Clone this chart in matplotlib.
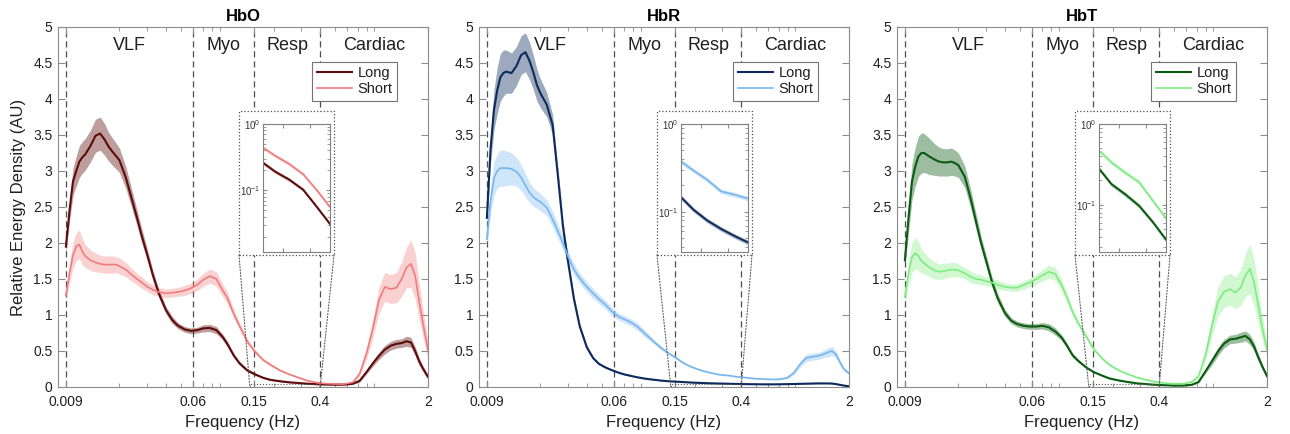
import numpy as np
import matplotlib
matplotlib.use("Agg")
import matplotlib.pyplot as plt
from matplotlib.patches import Rectangle, ConnectionPatch
from matplotlib.ticker import FixedLocator, FixedFormatter, LogLocator, NullFormatter

plt.rcParams['font.family'] = ['Liberation Sans', 'DejaVu Sans']

# frequency grid (Hz)
freq = [0.009, 0.0095, 0.010, 0.0105, 0.011, 0.0115, 0.012, 0.013, 0.014, 0.015,
        0.016, 0.017, 0.018, 0.019, 0.020, 0.022, 0.024, 0.026, 0.028, 0.030,
        0.033, 0.036, 0.040, 0.044, 0.048, 0.053, 0.058, 0.064, 0.070, 0.077,
        0.085, 0.093, 0.10, 0.11, 0.12, 0.135, 0.15, 0.17, 0.19, 0.22,
        0.25, 0.29, 0.33, 0.38, 0.43, 0.5, 0.57, 0.65, 0.72, 0.8,
        0.88, 0.96, 1.05, 1.15, 1.25, 1.35, 1.45, 1.55, 1.65, 1.75,
        1.85, 2.0]

hbo_long = [1.95, 2.45, 2.85, 3.00, 3.13, 3.19, 3.23, 3.35, 3.49, 3.52,
            3.44, 3.34, 3.27, 3.21, 3.15, 2.91, 2.62, 2.35, 2.09, 1.87,
            1.55, 1.30, 1.07, 0.93, 0.85, 0.80, 0.78, 0.79, 0.815, 0.82,
            0.79, 0.70, 0.60, 0.44, 0.33, 0.23, 0.18, 0.13, 0.10, 0.08,
            0.066, 0.055, 0.046, 0.039, 0.035, 0.032, 0.033, 0.045, 0.085, 0.21,
            0.33, 0.43, 0.52, 0.575, 0.60, 0.61, 0.635, 0.62, 0.50, 0.36,
            0.26, 0.14]
hbo_long_se = [0.10, 0.15, 0.19, 0.21, 0.22, 0.22, 0.22, 0.22, 0.23, 0.23,
               0.22, 0.20, 0.19, 0.18, 0.17, 0.15, 0.13, 0.11, 0.10, 0.08,
               0.07, 0.06, 0.05, 0.05, 0.04, 0.04, 0.04, 0.04, 0.05, 0.05,
               0.05, 0.04, 0.04, 0.03, 0.025, 0.02, 0.015, 0.012, 0.01, 0.01,
               0.008, 0.008, 0.007, 0.007, 0.007, 0.007, 0.007, 0.01, 0.02, 0.03,
               0.04, 0.05, 0.06, 0.06, 0.06, 0.06, 0.07, 0.07, 0.06, 0.05,
               0.04, 0.03]
hbo_short = [1.27, 1.58, 1.83, 1.95, 1.98, 1.88, 1.82, 1.76, 1.73, 1.71,
             1.70, 1.70, 1.70, 1.70, 1.68, 1.63, 1.56, 1.50, 1.45, 1.40,
             1.35, 1.32, 1.30, 1.31, 1.32, 1.34, 1.37, 1.42, 1.49, 1.54,
             1.50, 1.35, 1.24, 1.02, 0.85, 0.63, 0.50, 0.38, 0.31, 0.23,
             0.18, 0.13, 0.09, 0.06, 0.048, 0.042, 0.04, 0.065, 0.18, 0.47,
             0.82, 1.20, 1.39, 1.36, 1.38, 1.50, 1.66, 1.71, 1.55, 1.20,
             0.90, 0.51]
hbo_short_se = [0.08, 0.14, 0.18, 0.19, 0.20, 0.18, 0.16, 0.14, 0.13, 0.12,
                0.12, 0.12, 0.12, 0.11, 0.11, 0.10, 0.09, 0.08, 0.08, 0.07,
                0.07, 0.06, 0.06, 0.06, 0.06, 0.07, 0.07, 0.08, 0.09, 0.10,
                0.10, 0.09, 0.08, 0.06, 0.05, 0.04, 0.03, 0.02, 0.02, 0.015,
                0.012, 0.01, 0.01, 0.01, 0.01, 0.01, 0.01, 0.015, 0.03, 0.08,
                0.13, 0.18, 0.20, 0.20, 0.21, 0.24, 0.28, 0.33, 0.32, 0.26,
                0.20, 0.12]

hbr_long = [2.35, 3.30, 3.85, 4.12, 4.30, 4.36, 4.38, 4.36, 4.46, 4.61,
            4.65, 4.53, 4.37, 4.19, 4.08, 3.92, 3.64, 2.92, 2.23, 1.78,
            1.22, 0.84, 0.55, 0.40, 0.32, 0.27, 0.235, 0.20, 0.175, 0.155,
            0.135, 0.12, 0.11, 0.10, 0.09, 0.08, 0.075, 0.068, 0.062, 0.056,
            0.052, 0.048, 0.045, 0.042, 0.04, 0.038, 0.037, 0.037, 0.038, 0.04,
            0.042, 0.044, 0.046, 0.048, 0.05, 0.05, 0.05, 0.048, 0.04, 0.03,
            0.02, 0.01]
hbr_long_se = [0.10, 0.20, 0.28, 0.32, 0.33, 0.32, 0.30, 0.28, 0.27, 0.27,
               0.27, 0.26, 0.24, 0.22, 0.20, 0.17, 0.14, 0.11, 0.09, 0.07,
               0.05, 0.04, 0.03, 0.02, 0.015, 0.012, 0.01, 0.01, 0.008, 0.008,
               0.007, 0.007, 0.006, 0.006, 0.006, 0.005, 0.005, 0.005, 0.005, 0.005,
               0.004, 0.004, 0.004, 0.004, 0.004, 0.004, 0.004, 0.004, 0.004, 0.004,
               0.004, 0.005, 0.005, 0.005, 0.005, 0.005, 0.005, 0.005, 0.005, 0.004,
               0.004, 0.003]
hbr_short = [2.05, 2.58, 2.90, 3.00, 3.04, 3.04, 3.04, 3.03, 2.99, 2.91,
             2.80, 2.70, 2.64, 2.60, 2.57, 2.49, 2.33, 2.16, 2.00, 1.83,
             1.63, 1.51, 1.39, 1.30, 1.22, 1.14, 1.05, 0.98, 0.94, 0.90,
             0.84, 0.76, 0.70, 0.62, 0.55, 0.47, 0.41, 0.33, 0.28, 0.23,
             0.20, 0.17, 0.16, 0.14, 0.13, 0.115, 0.11, 0.105, 0.11, 0.13,
             0.20, 0.31, 0.40, 0.42, 0.43, 0.45, 0.48, 0.50, 0.45, 0.34,
             0.25, 0.19]
hbr_short_se = [0.10, 0.18, 0.23, 0.24, 0.25, 0.25, 0.24, 0.22, 0.20, 0.18,
                0.16, 0.14, 0.13, 0.12, 0.12, 0.11, 0.11, 0.10, 0.09, 0.08,
                0.08, 0.07, 0.07, 0.07, 0.06, 0.06, 0.06, 0.05, 0.05, 0.05,
                0.05, 0.05, 0.04, 0.03, 0.03, 0.02, 0.02, 0.015, 0.012, 0.01,
                0.01, 0.01, 0.008, 0.008, 0.008, 0.008, 0.008, 0.008, 0.01, 0.015,
                0.03, 0.04, 0.05, 0.05, 0.05, 0.05, 0.06, 0.06, 0.05, 0.04,
                0.03, 0.02]

hbt_long = [1.76, 2.35, 2.85, 3.06, 3.20, 3.25, 3.25, 3.20, 3.16, 3.13,
            3.12, 3.12, 3.13, 3.11, 3.08, 2.92, 2.62, 2.30, 2.01, 1.78,
            1.46, 1.23, 1.03, 0.92, 0.875, 0.85, 0.84, 0.84, 0.85, 0.83,
            0.77, 0.69, 0.59, 0.44, 0.36, 0.27, 0.21, 0.16, 0.12, 0.09,
            0.07, 0.05, 0.04, 0.03, 0.025, 0.02, 0.02, 0.03, 0.07, 0.22,
            0.36, 0.49, 0.60, 0.66, 0.67, 0.69, 0.71, 0.66, 0.56, 0.42,
            0.30, 0.15]
hbt_long_se = [0.10, 0.20, 0.25, 0.27, 0.28, 0.28, 0.27, 0.25, 0.22, 0.20,
               0.19, 0.19, 0.19, 0.18, 0.17, 0.15, 0.13, 0.11, 0.09, 0.08,
               0.07, 0.06, 0.05, 0.04, 0.04, 0.04, 0.04, 0.04, 0.045, 0.05,
               0.05, 0.04, 0.035, 0.03, 0.02, 0.015, 0.012, 0.01, 0.01, 0.008,
               0.007, 0.006, 0.006, 0.005, 0.005, 0.005, 0.005, 0.008, 0.015, 0.03,
               0.05, 0.06, 0.06, 0.06, 0.06, 0.07, 0.07, 0.07, 0.06, 0.05,
               0.04, 0.03]
hbt_short = [1.25, 1.58, 1.80, 1.86, 1.82, 1.75, 1.72, 1.66, 1.62, 1.60,
             1.61, 1.62, 1.63, 1.63, 1.62, 1.58, 1.53, 1.50, 1.49, 1.47,
             1.45, 1.42, 1.39, 1.38, 1.38, 1.42, 1.45, 1.50, 1.55, 1.60,
             1.57, 1.42, 1.27, 1.04, 0.88, 0.70, 0.53, 0.40, 0.31, 0.23,
             0.18, 0.13, 0.10, 0.07, 0.055, 0.045, 0.045, 0.07, 0.15, 0.45,
             0.85, 1.18, 1.32, 1.36, 1.31, 1.38, 1.55, 1.64, 1.45, 1.15,
             0.86, 0.52]
hbt_short_se = [0.10, 0.17, 0.21, 0.22, 0.20, 0.17, 0.15, 0.13, 0.12, 0.11,
                0.11, 0.10, 0.10, 0.10, 0.09, 0.08, 0.08, 0.07, 0.07, 0.06,
                0.06, 0.06, 0.05, 0.05, 0.05, 0.06, 0.06, 0.07, 0.08, 0.09,
                0.09, 0.08, 0.07, 0.05, 0.04, 0.03, 0.025, 0.02, 0.015, 0.012,
                0.01, 0.01, 0.01, 0.008, 0.008, 0.008, 0.008, 0.015, 0.03, 0.08,
                0.15, 0.20, 0.22, 0.22, 0.22, 0.25, 0.30, 0.34, 0.32, 0.26,
                0.18, 0.10]

# zoomed inset (0.15 - 0.4 Hz, log scale)
inset_freq = [0.15, 0.18, 0.22, 0.27, 0.33, 0.40]
hbo_inset_long = [0.26, 0.19, 0.145, 0.102, 0.056, 0.031]
hbo_inset_short = [0.44, 0.33, 0.25, 0.175, 0.10, 0.056]
hbr_inset_long = [0.147, 0.106, 0.080, 0.064, 0.053, 0.045]
hbr_inset_short = [0.375, 0.296, 0.232, 0.171, 0.157, 0.142]
hbt_inset_long = [0.28, 0.18, 0.135, 0.097, 0.061, 0.037]
hbt_inset_short = [0.47, 0.335, 0.25, 0.19, 0.112, 0.068]
INSET_REL_ERR = 0.06

band_edges = [0.009, 0.06, 0.15, 0.4, 2]
band_names = ["VLF", "Myo", "Resp", "Cardiac"]
xtick_vals = [0.009, 0.06, 0.15, 0.4, 2]
xtick_labels = ["0.009", "0.06", "0.15", "0.4", "2"]
ytick_vals = [0, 0.5, 1, 1.5, 2, 2.5, 3, 3.5, 4, 4.5, 5]
ytick_labels = ["0", "0.5", "1", "1.5", "2", "2.5", "3", "3.5", "4", "4.5", "5"]

for arr in [hbo_long, hbo_long_se, hbo_short, hbo_short_se, hbr_long, hbr_long_se,
            hbr_short, hbr_short_se, hbt_long, hbt_long_se, hbt_short, hbt_short_se]:
    assert len(arr) == len(freq), len(arr)

W, H = 1290, 434
fig = plt.figure(figsize=(W / 100, H / 100), dpi=100)

panels = [
    dict(title="HbO", left=58, inl=263, long=hbo_long, long_se=hbo_long_se,
         short=hbo_short, short_se=hbo_short_se, il=hbo_inset_long, ish=hbo_inset_short,
         iylim=(0.0117, 1), c_long="#5e0b0b", c_short="#f07c7c"),
    dict(title="HbR", left=479, inl=681, long=hbr_long, long_se=hbr_long_se,
         short=hbr_short, short_se=hbr_short_se, il=hbr_inset_long, ish=hbr_inset_short,
         iylim=(0.035, 1), c_long="#0c2b5c", c_short="#78b6ee"),
    dict(title="HbT", left=897, inl=1099, long=hbt_long, long_se=hbt_long_se,
         short=hbt_short, short_se=hbt_short_se, il=hbt_inset_long, ish=hbt_inset_short,
         iylim=(0.026, 1), c_long="#0b5c12", c_short="#7eec80"),
]

spine_c = "0.55"
text_c = "0.12"

for i, p in enumerate(panels):
    ax = fig.add_axes([p["left"] / W, 47 / H, 370 / W, 360 / H])
    f = np.array(freq)
    for key, c, lw, alpha in [("long", p["c_long"], 1.5, 0.4), ("short", p["c_short"], 1.2, 0.35)]:
        m = np.array(p[key])
        se = np.array(p[key + "_se"])
        ax.fill_between(f, m - se, m + se, color=c, alpha=alpha, lw=0, zorder=2)
        ax.plot(f, m, color=c, lw=lw, zorder=3, label=key.capitalize())

    for e in band_edges[:-1]:
        ax.axvline(e, color="0.3", lw=0.9, ls=(0, (5, 3)), zorder=1)
    for a, b, name in zip(band_edges[:-1], band_edges[1:], band_names):
        ax.text(np.sqrt(a * b), 4.75, name, ha="center", va="center",
                fontsize=13, color=text_c)

    ax.set_xscale("log")
    ax.set_xlim(0.008, 2)
    ax.set_ylim(0, 5)
    ax.xaxis.set_major_locator(FixedLocator(xtick_vals))
    ax.xaxis.set_major_formatter(FixedFormatter(xtick_labels))
    ax.xaxis.set_minor_locator(LogLocator(base=10, subs=np.arange(2, 10)))
    ax.xaxis.set_minor_formatter(NullFormatter())
    ax.yaxis.set_major_locator(FixedLocator(ytick_vals))
    ax.yaxis.set_major_formatter(FixedFormatter(ytick_labels))
    ax.tick_params(which="both", direction="in", top=True, right=True,
                   color=spine_c, labelcolor=text_c, labelsize=10)
    ax.tick_params(which="major", length=5)
    ax.tick_params(which="minor", length=3)
    ax.tick_params(axis="x", which="major", pad=6)
    ax.tick_params(axis="y", which="major", pad=4)
    for s in ax.spines.values():
        s.set_color(spine_c)
        s.set_linewidth(0.8)
    ax.set_title(p["title"], fontsize=12, fontweight="bold", pad=4, color="black")
    ax.set_xlabel("Frequency (Hz)", fontsize=12, color=text_c, labelpad=4)
    if i == 0:
        ax.set_ylabel("Relative Energy Density (AU)", fontsize=12, color=text_c, labelpad=5)

    leg = ax.legend(loc="upper right", bbox_to_anchor=(0.916, 0.903), fontsize=10.5,
                    fancybox=False, edgecolor="0.45", framealpha=1, handlelength=2.4,
                    borderpad=0.3, labelspacing=0.15, handletextpad=0.4, borderaxespad=0)
    leg.get_frame().set_linewidth(0.8)
    for t in leg.get_texts():
        t.set_color(text_c)

    # zoom marker on the main axes
    ax.add_patch(Rectangle((0.14, 0), 0.26, 0.04, fill=False, ls=":", ec="0.35",
                           lw=0.8, zorder=4))

    # outer dotted box for the inset
    bx0, bx1 = (p["inl"] - 24) / W, (p["inl"] + 71) / W
    by0, by1 = (H - 255) / H, (H - 111) / H
    fig.add_artist(Rectangle((bx0, by0), bx1 - bx0, by1 - by0, transform=fig.transFigure,
                             fc="white", ec="0.3", ls=":", lw=0.9, zorder=2))
    for xa, xb in [(bx0, 0.14), (bx1, 0.4)]:
        con = ConnectionPatch(xyA=(xa, by0), coordsA=fig.transFigure,
                              xyB=(xb, 0), coordsB=ax.transData,
                              ls=":", color="0.35", lw=0.8, zorder=2)
        fig.add_artist(con)

    axin = fig.add_axes([p["inl"] / W, (H - 252) / H, 67 / W, 128 / H], zorder=3)
    fi = np.array(inset_freq)
    for key, c, lw, alpha in [("il", p["c_long"], 1.4, 0.35), ("ish", p["c_short"], 1.2, 0.35)]:
        m = np.array(p[key])
        axin.fill_between(fi, m * (1 - INSET_REL_ERR), m * (1 + INSET_REL_ERR),
                          color=c, alpha=alpha, lw=0)
        axin.plot(fi, m, color=c, lw=lw)
    axin.set_xscale("log")
    axin.set_yscale("log")
    axin.set_xlim(0.15, 0.4)
    axin.set_ylim(*p["iylim"])
    axin.xaxis.set_major_locator(FixedLocator([0.2, 0.3]))
    axin.xaxis.set_major_formatter(NullFormatter())
    axin.xaxis.set_minor_locator(FixedLocator([]))
    axin.yaxis.set_major_locator(FixedLocator([0.1, 1]))
    axin.yaxis.set_minor_locator(LogLocator(base=10, subs=np.arange(2, 10)))
    axin.yaxis.set_minor_formatter(NullFormatter())
    axin.tick_params(which="both", direction="in", top=True, right=True,
                     color=spine_c, labelcolor="0.2", labelsize=7, pad=2)
    axin.tick_params(which="major", length=3)
    axin.tick_params(which="minor", length=2)
    for s in axin.spines.values():
        s.set_color("0.5")
        s.set_linewidth(0.8)

fig.savefig("out.png", dpi=100)
